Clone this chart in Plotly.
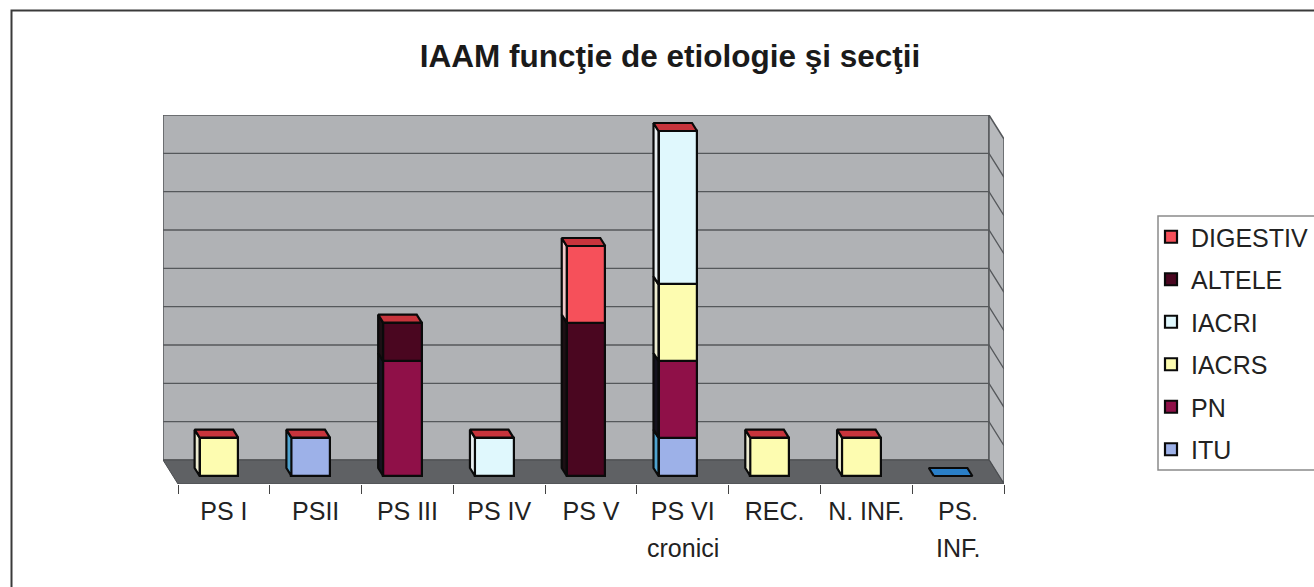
import plotly.graph_objects as go

categories = ["PS I", "PSII", "PS III", "PS IV", "PS V", "PS VI", "REC.", "N. INF.", "PS."]
second_lines = {5: "cronici", 8: "INF."}
series_names = ["ITU", "PN", "IACRS", "IACRI", "ALTELE", "DIGESTIV"]
ITU = [0, 1, 0, 0, 0, 1, 0, 0, 0]
PN = [0, 0, 3, 0, 0, 2, 0, 0, 0]
IACRS = [1, 0, 0, 0, 0, 2, 1, 1, 0]
IACRI = [0, 0, 0, 1, 0, 4, 0, 0, 0]
ALTELE = [0, 0, 1, 0, 4, 0, 0, 0, 0]
DIGESTIV = [0, 0, 0, 0, 2, 0, 0, 0, 0]
series_values = [ITU, PN, IACRS, IACRI, ALTELE, DIGESTIV]
front_colors = ["#9db1e8", "#8f1048", "#fdfcb0", "#e0f8fd", "#4a0620", "#f6505a"]
side_colors = ["#4fa3cf", "#14121e", "#ecebd0", "#e8eef0", "#1c0f14", "#efc8c8"]
top_color = "#c8343c"
zero_top_color = "#2a7fc8"
y_ticks = [0, 1, 2, 3, 4, 5, 6, 7, 8, 9]

W, H = 1314, 587
L, R, T, B = 163, 1004, 115, 484
DX, DY = 15 / 91.78, 24 / 38.33
BAR_W, D0, D1 = 0.42, 1 / 3, 2 / 3
FONT = "Liberation Sans"


def proj(x, v, d):
    return x - DX * d, v - DY + DY * d


def path(points):
    return "M" + "L".join(f"{a},{b}" for a, b in points) + "Z"


n = len(categories)
centers = [i + 0.5 for i in range(n)]
bar_x = [proj(c, 0, D0)[0] for c in centers]
base0 = proj(0, 0, D0)[1]

fig = go.Figure()
shapes = []

# walls and floor
wall = [proj(0, 0, 1), proj(n, 0, 1), proj(n, 9, 1), proj(0, 9, 1)]
shapes.append(dict(type="path", path=path(wall), fillcolor="#b0b2b5",
                   line=dict(color="#55585b", width=1.5), layer="below"))
right = [proj(n, 0, 1), proj(n, 0, 0), proj(n, 9, 0), proj(n, 9, 1)]
shapes.append(dict(type="path", path=path(right), fillcolor="#b7b9bc",
                   line=dict(color="#55585b", width=1.5), layer="below"))
floor = [proj(0, 0, 0), proj(n, 0, 0), proj(n, 0, 1), proj(0, 0, 1)]
shapes.append(dict(type="path", path=path(floor), fillcolor="#5f6164",
                   line=dict(color="#4a4c4f", width=1), layer="below"))
for t in y_ticks[1:-1]:
    a, b, c = proj(0, t, 1), proj(n, t, 1), proj(n, t, 0)
    shapes.append(dict(type="path", path=f"M{a[0]},{a[1]}L{b[0]},{b[1]}L{c[0]},{c[1]}",
                       line=dict(color="#55585b", width=1.3), layer="below"))

# stacked bars: front faces
cum = [0.0] * n
for k, (name, vals, col) in enumerate(zip(series_names, series_values, front_colors)):
    fig.add_trace(go.Bar(
        x=bar_x, y=[v if v else None for v in vals],
        base=[base0 + c for c in cum], width=BAR_W, name=name, legendgroup=name,
        legendrank=100 - k,
        marker=dict(color=col, line=dict(color="#0a0a0a", width=2.2)),
        hoverinfo="skip"))
    cum = [c + v for c, v in zip(cum, vals)]


def face(points, color):
    xs = [p[0] for p in points] + [points[0][0]]
    ys = [p[1] for p in points] + [points[0][1]]
    fig.add_trace(go.Scatter(x=xs, y=ys, mode="lines", fill="toself", fillcolor=color,
                             line=dict(color="#0a0a0a", width=2.2), showlegend=False,
                             hoverinfo="skip"))


# side faces and top caps
cum = [0.0] * n
for vals, scol in zip(series_values, side_colors):
    for i, v in enumerate(vals):
        if v:
            xl = centers[i] - BAR_W / 2
            face([proj(xl, cum[i], D0), proj(xl, cum[i], D1),
                  proj(xl, cum[i] + v, D1), proj(xl, cum[i] + v, D0)], scol)
    cum = [c + v for c, v in zip(cum, vals)]
for i, total in enumerate(cum):
    xl, xr = centers[i] - BAR_W / 2, centers[i] + BAR_W / 2
    face([proj(xl, total, D0), proj(xr, total, D0), proj(xr, total, D1), proj(xl, total, D1)],
         top_color if total else zero_top_color)

# outer frame and legend box (paper coordinates relative to the plot area)
px = lambda x: (x - L) / (R - L)
py = lambda y: (B - y) / (B - T)
shapes.append(dict(type="rect", xref="paper", yref="paper", x0=px(11.5), x1=px(1320),
                   y0=py(592), y1=py(10.5), line=dict(color="#3a3a3a", width=2), layer="below"))
shapes.append(dict(type="rect", xref="paper", yref="paper", x0=px(1158), x1=px(1320),
                   y0=py(470), y1=py(216), line=dict(color="#8a8a8a", width=1.5),
                   fillcolor="white", layer="below"))

annotations = [dict(x=centers[i], xref="x", y=py(548), yref="paper", text=t, showarrow=False,
                    font=dict(family=FONT, size=25, color="#222222"), yanchor="middle")
               for i, t in second_lines.items()]

fig.update_layout(
    width=W, height=H, autosize=False,
    margin=dict(l=L, r=W - R, t=T, b=H - B, pad=0, autoexpand=False),
    paper_bgcolor="white", plot_bgcolor="rgba(0,0,0,0)",
    barmode="overlay", bargap=0,
    title=dict(text="<b>IAAM funcţie de etiologie şi secţii</b>", xref="container", yref="container",
               x=670 / W, xanchor="center", y=1 - 56 / H, yanchor="middle",
               font=dict(family=FONT, size=31.5, color="#1a1a1a")),
    xaxis=dict(range=[-DX, n], tickvals=centers, ticktext=categories, ticks="", showgrid=False,
               zeroline=False, showline=False, ticklabelstandoff=10,
               tickfont=dict(family=FONT, size=25, color="#222222"),
               minor=dict(tickvals=list(range(n + 1)), ticks="outside", ticklen=9,
                          tickcolor="#444444", tickwidth=1.3, showgrid=False)),
    yaxis=dict(range=[-DY, 9], visible=False),
    legend=dict(x=px(1151), xanchor="left", y=py(214), yanchor="top", bgcolor="rgba(0,0,0,0)",
                borderwidth=0, traceorder="grouped", tracegroupgap=7,
                font=dict(family=FONT, size=25, color="#222222"), itemclick=False,
                itemdoubleclick=False),
    shapes=shapes, annotations=annotations,
)

fig.write_html("out.html", config={"displayModeBar": False},
               post_script="document.body.style.margin='0';document.body.style.overflow='hidden';")
